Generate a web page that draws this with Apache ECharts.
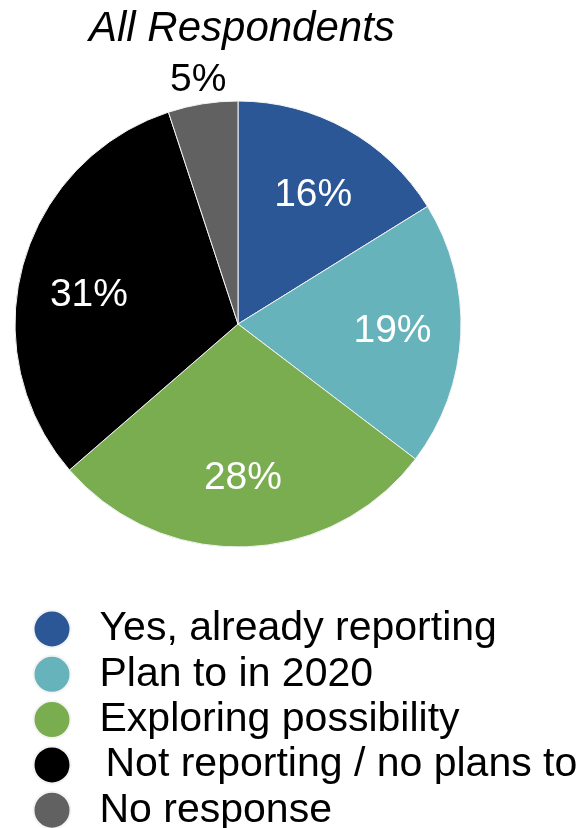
<!DOCTYPE html>
<html><head><meta charset="utf-8">
<script src="https://cdn.jsdelivr.net/npm/echarts@6/dist/echarts.min.js"></script>
<style>html,body{margin:0;padding:0;background:#fff}#c{width:588px;height:828px}</style>
</head><body><div id="c"></div>
<script>
const categories = ['Yes, already reporting', 'Plan to in 2020', 'Exploring possibility', 'Not reporting / no plans to', 'No response'];
const values = [16, 19, 28, 31, 5];
const colors = ['#2b5797', '#66b3bb', '#79ad50', '#000000', '#616161'];
const titleText = 'All Respondents';

const FONT = '"Liberation Sans", Arial, sans-serif';
const C = [238, 324];
const R = 223;
const labelOffsets = { 0: [0, 6], 3: [0, 12], 4: [0, 5] };

const mainData = categories.map((n, i) => ({ name: n, value: values[i], itemStyle: { color: colors[i] } }));
const innerLabelData = categories.map((n, i) => ({
  name: n, value: values[i],
  label: { show: i !== 4, offset: labelOffsets[i] || [0, 0] }
}));
const outerLabelData = categories.map((n, i) => ({
  name: n, value: values[i],
  label: { show: i === 4, offset: labelOffsets[i] || [0, 0] }
}));

const chart = echarts.init(document.getElementById('c'), null, { renderer: 'canvas' });
chart.setOption({
  animation: false,
  backgroundColor: '#fff',
  title: {
    text: titleText, left: 84, top: 3,
    textStyle: { fontFamily: FONT, fontStyle: 'italic', fontWeight: 'normal', fontSize: 42, color: '#000' }
  },
  legend: {
    orient: 'vertical', left: 32.5, top: 608.5, height: 260, padding: 0,
    icon: 'circle', itemWidth: 37, itemHeight: 37, itemGap: 4.3,
    selectedMode: false,
    data: categories,
    formatter: n => (n === categories[3] ? '{s|' : '{t|') + n + '}',
    textStyle: {
      fontFamily: FONT, fontSize: 41, color: '#000', lineHeight: 37,
      rich: {
        t: { fontFamily: FONT, fontSize: 41, color: '#000', lineHeight: 37, padding: [0, 0, 0, 24] },
        s: { fontFamily: FONT, fontSize: 41, color: '#000', lineHeight: 37, padding: [0, 0, 0, 30] }
      }
    }
  },
  series: [
    {
      type: 'pie', name: 'main', center: C, radius: [0, R],
      startAngle: 90, clockwise: true, silent: true,
      label: { show: false }, labelLine: { show: false },
      itemStyle: { borderColor: '#f4f4f4', borderWidth: 1 },
      emphasis: { disabled: true },
      data: mainData
    },
    {
      type: 'pie', name: 'innerLabels', center: C, radius: [R * 0.36, R],
      startAngle: 90, clockwise: true, silent: true,
      legendHoverLink: false,
      itemStyle: { color: 'rgba(0,0,0,0)', borderWidth: 0 },
      label: { position: 'inside', formatter: '{c}%', fontFamily: FONT, fontSize: 39, color: '#fff' },
      labelLine: { show: false },
      emphasis: { disabled: true },
      data: innerLabelData
    },
    {
      type: 'pie', name: 'outerLabels', center: C, radius: [R, R * 1.23],
      startAngle: 90, clockwise: true, silent: true,
      legendHoverLink: false,
      itemStyle: { color: 'rgba(0,0,0,0)', borderWidth: 0 },
      label: { position: 'inside', formatter: '{c}%', fontFamily: FONT, fontSize: 39, color: '#000' },
      labelLine: { show: false },
      emphasis: { disabled: true },
      data: outerLabelData
    }
  ]
});
</script></body></html>
